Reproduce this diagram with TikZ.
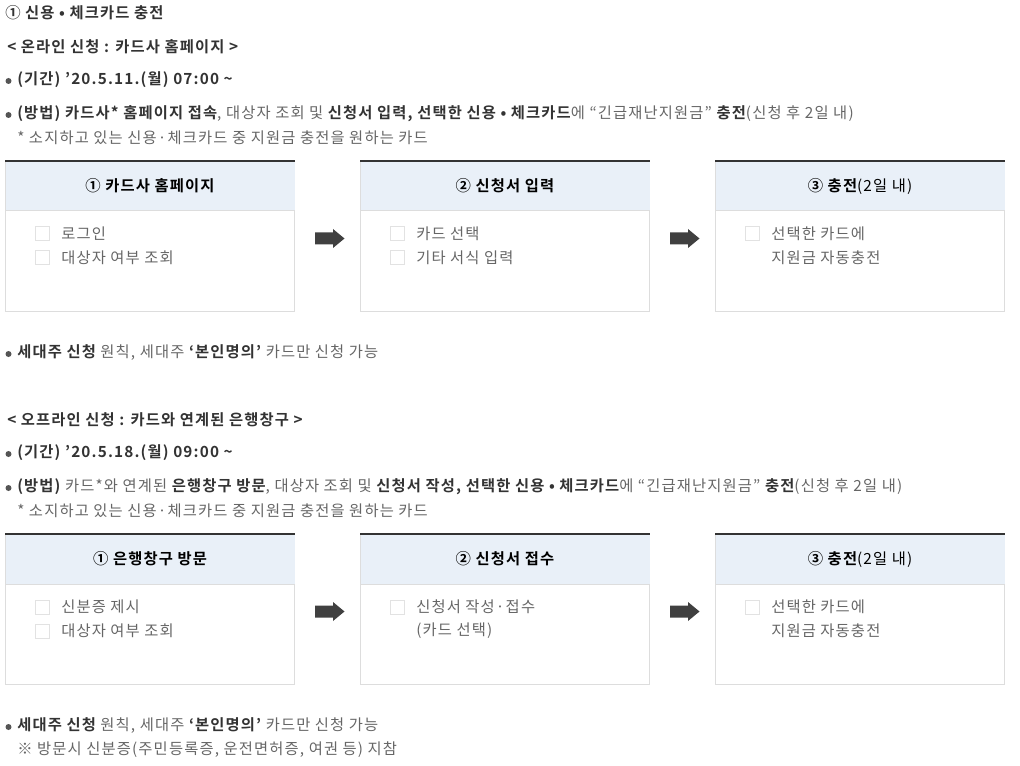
\documentclass[tikz,border=0pt]{standalone}
\usepackage{fontspec}
\setmainfont{Noto Sans CJK KR}[BoldFont={Noto Sans CJK KR Bold},LetterSpace=7.5]
\usetikzlibrary{calc,positioning}

\definecolor{headfill}{HTML}{E9F0F8}
\definecolor{topline}{HTML}{333333}
\definecolor{boxline}{HTML}{DDDDDD}
\definecolor{chkline}{HTML}{E2E2E2}
\definecolor{txtgray}{HTML}{666666}
\definecolor{boldgray}{HTML}{333333}
\definecolor{arrowgray}{HTML}{404040}
\definecolor{dotgray}{HTML}{555555}

\newcommand\bd[1]{{\bfseries\color{boldgray}#1}}

\tikzset{
  txt/.style={anchor=west,inner sep=0pt,text=txtgray,font=\fontsize{11.5}{13.8}\selectfont},
  headtxt/.style={inner sep=0pt,text=black,font=\fontsize{11.5}{13.8}\selectfont},
  dot/.style={circle,fill=dotgray,inner sep=0pt,minimum size=4.5pt},
  cardbody/.style={anchor=north west,draw=boxline,line width=0.75pt,minimum width=216.75pt,minimum height=112.5pt,inner sep=0pt},
  chk/.style={draw=chkline,line width=0.75pt,inner sep=0pt,minimum size=10.5pt},
  arrowfill/.style={fill=arrowgray}
}

\begin{document}
\begin{tikzpicture}[x=0.75pt,y=-0.75pt]
\useasboundingbox (0,0) rectangle (1020,766);

% first heading
\node[txt] (title) at (5,13) {\bd{① 신용 • 체크카드 충전}};

% online
\node[txt] (onl) at (7,47) {\bd{< 온라인 신청 : 카드사 홈페이지 >}};
\node[dot] (onlDateB) at (8.5,81) {};
\node[txt] (onlDate) at (17,80) {\bd{(기간) ’20.5.11.(월) 07:00 \textasciitilde}};
\node[dot] (onlHowB) at (8.5,115) {};
\node[txt] (onlHow) at (17,114) {\bd{(방법) 카드사* 홈페이지 접속}, 대상자 조회 및 \bd{신청서 입력, 선택한 신용 • 체크카드}에 “긴급재난지원금” \bd{충전}(신청 후 2일 내)};
\node[txt] (onlNote) at (17,138) {* 소지하고 있는 신용·체크카드 중 지원금 충전을 원하는 카드};

\node[cardbody] (on1) at (5,161) {};
\node[cardbody] (on2) at (360,161) {};
\node[cardbody] (on3) at (715,161) {};
\foreach \c in {on1,on2,on3}{
  \fill[headfill] ($(\c.north west)+(0.5,0)$) rectangle ($(\c.north east)+(-0.5,50)$);
  \draw[boxline,line width=0.75pt] ($(\c.north west)+(0,50)$) -- ($(\c.north east)+(0,50)$);
  \draw[topline,line width=0.9pt] (\c.north west) -- (\c.north east);
}
\node[headtxt] (on1h) at ($(on1.north)+(0,25)$) {\bfseries ① 카드사 홈페이지};
\node[headtxt] (on2h) at ($(on2.north)+(0,25)$) {\bfseries ② 신청서 입력};
\node[headtxt] (on3h) at ($(on3.north)+(0,25)$) {\bfseries ③ 충전\mdseries(2일 내)};

\node[chk] (on1c1) at ($(on1.north west)+(37,73)$) {};
\node[chk] (on1c2) at ($(on1.north west)+(37,97)$) {};
\node[txt] (on1i1) at ($(on1.north west)+(56,73)$) {로그인};
\node[txt] (on1i2) at ($(on1.north west)+(56,97)$) {대상자 여부 조회};
\node[chk] (on2c1) at ($(on2.north west)+(37,73)$) {};
\node[chk] (on2c2) at ($(on2.north west)+(37,97)$) {};
\node[txt] (on2i1) at ($(on2.north west)+(56,73)$) {카드 선택};
\node[txt] (on2i2) at ($(on2.north west)+(56,97)$) {기타 서식 입력};
\node[chk] (on3c1) at ($(on3.north west)+(37,73)$) {};
\node[txt] (on3i1) at ($(on3.north west)+(56,73)$) {선택한 카드에};
\node[txt] (on3i2) at ($(on3.north west)+(56,97)$) {지원금 자동충전};

% arrows
\path (on1.east) -- (on2.west) coordinate[midway] (onA1);
\path (on2.east) -- (on3.west) coordinate[midway] (onA2);
\foreach \a in {onA1,onA2}
  \fill[arrowfill] ($(\a)+(-12.5,-4)$) -- ++(18,0) -- ++(0,-3.5) -- ++(11.5,9.5)
    -- ++(-11.5,9.5) -- ++(0,-3.5) -- ++(-18,0) -- cycle;

\node[dot] (onlRuleB) at (8.5,354) {};
\node[txt] (onlRule) at (17,353) {\bd{세대주 신청} 원칙, 세대주 \bd{‘본인명의’} 카드만 신청 가능};

% offline
\node[txt] (off) at (7,420) {\bd{< 오프라인 신청 : 카드와 연계된 은행창구 >}};
\node[dot] (offDateB) at (8.5,454) {};
\node[txt] (offDate) at (17,453) {\bd{(기간) ’20.5.18.(월) 09:00 \textasciitilde}};
\node[dot] (offHowB) at (8.5,488) {};
\node[txt] (offHow) at (17,487) {\bd{(방법)} 카드*와 연계된 \bd{은행창구 방문}, 대상자 조회 및 \bd{신청서 작성, 선택한 신용 • 체크카드}에 “긴급재난지원금” \bd{충전}(신청 후 2일 내)};
\node[txt] (offNote) at (17,511) {* 소지하고 있는 신용·체크카드 중 지원금 충전을 원하는 카드};

\node[cardbody] (off1) at (5,534) {};
\node[cardbody] (off2) at (360,534) {};
\node[cardbody] (off3) at (715,534) {};
\foreach \c in {off1,off2,off3}{
  \fill[headfill] ($(\c.north west)+(0.5,0)$) rectangle ($(\c.north east)+(-0.5,50)$);
  \draw[boxline,line width=0.75pt] ($(\c.north west)+(0,50)$) -- ($(\c.north east)+(0,50)$);
  \draw[topline,line width=0.9pt] (\c.north west) -- (\c.north east);
}
\node[headtxt] (off1h) at ($(off1.north)+(0,25)$) {\bfseries ① 은행창구 방문};
\node[headtxt] (off2h) at ($(off2.north)+(0,25)$) {\bfseries ② 신청서 접수};
\node[headtxt] (off3h) at ($(off3.north)+(0,25)$) {\bfseries ③ 충전\mdseries(2일 내)};

\node[chk] (off1c1) at ($(off1.north west)+(37,73)$) {};
\node[chk] (off1c2) at ($(off1.north west)+(37,97)$) {};
\node[txt] (off1i1) at ($(off1.north west)+(56,73)$) {신분증 제시};
\node[txt] (off1i2) at ($(off1.north west)+(56,97)$) {대상자 여부 조회};
\node[chk] (off2c1) at ($(off2.north west)+(37,73)$) {};
\node[txt] (off2i1) at ($(off2.north west)+(56,73)$) {신청서 작성·접수};
\node[txt] (off2i2) at ($(off2.north west)+(56,97)$) {(카드 선택)};
\node[chk] (off3c1) at ($(off3.north west)+(37,73)$) {};
\node[txt] (off3i1) at ($(off3.north west)+(56,73)$) {선택한 카드에};
\node[txt] (off3i2) at ($(off3.north west)+(56,97)$) {지원금 자동충전};

\path (off1.east) -- (off2.west) coordinate[midway] (offA1);
\path (off2.east) -- (off3.west) coordinate[midway] (offA2);
\foreach \a in {offA1,offA2}
  \fill[arrowfill] ($(\a)+(-12.5,-4)$) -- ++(18,0) -- ++(0,-3.5) -- ++(11.5,9.5)
    -- ++(-11.5,9.5) -- ++(0,-3.5) -- ++(-18,0) -- cycle;

\node[dot] (offRuleB) at (8.5,727) {};
\node[txt] (offRule) at (17,726) {\bd{세대주 신청} 원칙, 세대주 \bd{‘본인명의’} 카드만 신청 가능};
\node[txt] (offNote2) at (17,750) {※ 방문시 신분증(주민등록증, 운전면허증, 여권 등) 지참};
\end{tikzpicture}
\end{document}
